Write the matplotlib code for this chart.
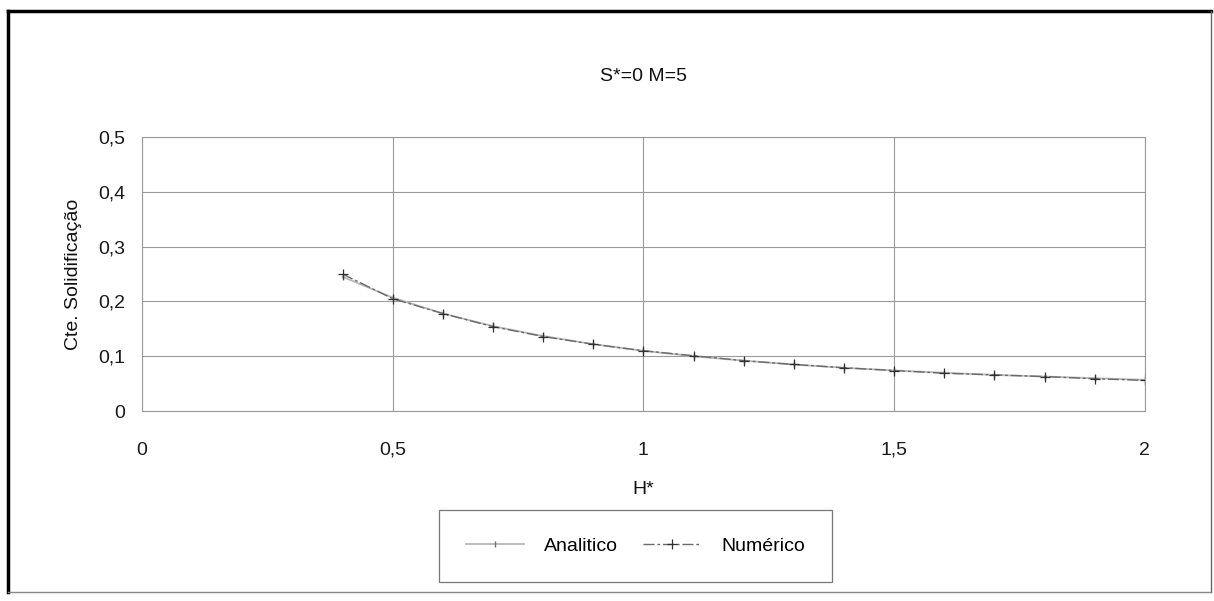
import numpy as np
import matplotlib
matplotlib.use('Agg')
import matplotlib.pyplot as plt
from matplotlib.lines import Line2D

plt.rcParams['font.family'] = ['Liberation Sans', 'DejaVu Sans']

# dados
h_star = [0.4, 0.5, 0.6, 0.7, 0.8, 0.9, 1.0, 1.1, 1.2, 1.3, 1.4, 1.5, 1.6, 1.7, 1.8, 1.9, 2.0]
analitico = [0.245, 0.207, 0.178, 0.155, 0.137, 0.122, 0.110, 0.100, 0.092, 0.085, 0.079, 0.074, 0.070, 0.066, 0.063, 0.060, 0.057]
numerico = [0.250, 0.205, 0.178, 0.154, 0.136, 0.122, 0.110, 0.101, 0.092, 0.085, 0.079, 0.074, 0.069, 0.066, 0.063, 0.059, 0.056]

xticks = [0, 0.5, 1, 1.5, 2]
xtick_labels = ['0', '0,5', '1', '1,5', '2']
yticks = [0, 0.1, 0.2, 0.3, 0.4, 0.5]
ytick_labels = ['0', '0,1', '0,2', '0,3', '0,4', '0,5']

fig = plt.figure(figsize=(12.14, 6.01), dpi=100)
ax = fig.add_axes([0.117, 0.316, 0.826, 0.456])

ax.plot(h_star, analitico, color='#b8b8b8', lw=1.3, marker='|', ms=5, mew=1.0,
        mec='#707070', label='Analitico')
ax.plot(h_star, numerico, color='#6a6a6a', lw=1.0, ls=(0, (8, 2, 2, 2)), marker='+',
        ms=7, mew=0.9, mec='#303030', label='Numérico')

ax.set_xlim(0, 2)
ax.set_ylim(0, 0.5)
ax.set_xticks(xticks)
ax.set_xticklabels(xtick_labels)
ax.set_yticks(yticks)
ax.set_yticklabels(ytick_labels)
ax.tick_params(length=0, labelsize=14, colors='#1a1a1a', pad=12)
ax.tick_params(axis='x', pad=22)
ax.grid(True, color='#9a9a9a', lw=0.8)
for s in ax.spines.values():
    s.set_color('#9a9a9a')
    s.set_linewidth(0.8)

ax.set_title('S*=0 M=5', fontsize=14, pad=40, color='#111111')
ax.set_xlabel('H*', fontsize=14, labelpad=16, color='#111111')
ax.set_ylabel('Cte. Solidificação', fontsize=14, labelpad=12, color='#111111')

leg = ax.legend(loc='center', bbox_to_anchor=(0.492, -0.493), ncol=2,
                frameon=True, fancybox=False, fontsize=14, handlelength=3.0,
                columnspacing=1.3, borderpad=1.4, handletextpad=1.0)
leg.get_frame().set_edgecolor('#555555')
leg.get_frame().set_linewidth(0.9)

# moldura da figura
fig.add_artist(Line2D([8/1214, 8/1214], [1-11/601, 1-592/601], color='black', lw=2.5))
fig.add_artist(Line2D([8/1214, 1211/1214], [1-11/601, 1-11/601], color='black', lw=2.5))
fig.add_artist(Line2D([1211/1214, 1211/1214], [1-11/601, 1-592/601], color='#666666', lw=1.0))
fig.add_artist(Line2D([8/1214, 1211/1214], [1-592/601, 1-592/601], color='#888888', lw=1.0))

fig.savefig('out.png', dpi=100)
